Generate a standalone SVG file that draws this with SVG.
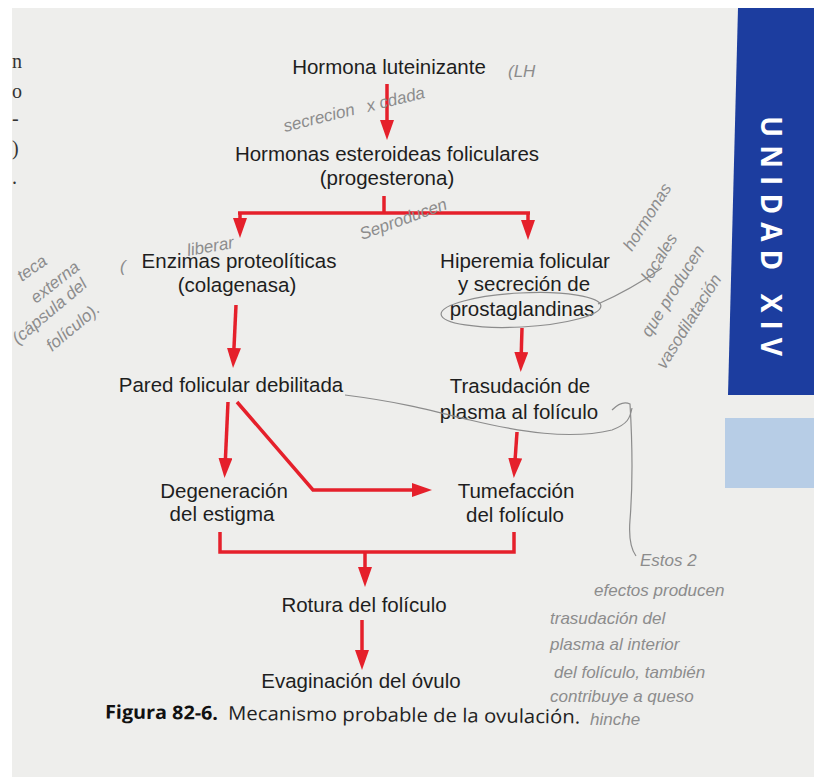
<svg xmlns="http://www.w3.org/2000/svg" width="814" height="777" viewBox="0 0 814 777">
<style>
.t{font-family:"Liberation Sans",Arial,sans-serif;font-size:20.5px;fill:#1e1e1e;text-anchor:middle}
.c{stroke:#e5202b;stroke-width:3.5;fill:none;stroke-linejoin:miter}
.a{stroke:#e5202b;stroke-width:3.5;fill:none;marker-end:url(#ah)}
.h{font-family:"Liberation Sans",Arial,sans-serif;font-size:17px;fill:#8c8c8c;font-style:italic}
.p{stroke:#8c8c8c;stroke-width:1.2;fill:none}
.m{font-family:"Liberation Serif",serif;font-size:20px;fill:#333}
</style>
<defs>
<marker id="ah" markerUnits="userSpaceOnUse" markerWidth="22" markerHeight="14" refX="10" refY="7" orient="auto">
<path d="M0,0 L20,7 L0,14 z" fill="#e5202b"/>
</marker>
</defs>
<rect width="814" height="777" fill="#ffffff"/>
<rect x="12" y="8" width="802" height="769" fill="#eeeeec"/>
<g id="margin">
<text class="m" x="12" y="68">n</text>
<text class="m" x="12" y="98">o</text>
<text class="m" x="12" y="125">-</text>
<text class="m" x="12" y="155">)</text>
<text class="m" x="12" y="184">.</text>
</g>
<g id="tab">
<polygon points="738,8 814,8 814,395 728,395" fill="#1c3d9f"/>
<text x="772" y="236" transform="rotate(90 772 236)" font-family="'Open Sans','Liberation Sans',sans-serif" font-weight="bold" font-size="28" fill="#ffffff" text-anchor="middle" dominant-baseline="central" textLength="240" lengthAdjust="spacing">UNIDAD XIV</text>
<rect x="725" y="418" width="89" height="70" fill="#b7cde6"/>
</g>
<g id="connectors">
<line class="a" x1="387" y1="84" x2="387" y2="130"/>
<polyline class="c" points="384,196 384,213"/>
<polyline class="c" points="238,213 530,213"/>
<line class="a" x1="240" y1="213" x2="240" y2="228"/>
<line class="a" x1="528" y1="213" x2="528" y2="230"/>
<line class="a" x1="236" y1="305" x2="233.5" y2="358"/>
<line class="a" x1="522" y1="328" x2="521" y2="362"/>
<line class="a" x1="228" y1="402" x2="225" y2="468"/>
<polyline class="a" points="237,402 313,490 422,490"/>
<line class="a" x1="517" y1="432" x2="514.5" y2="468"/>
<polyline class="c" points="220,532 220,552 514,552 514,532"/>
<line class="a" x1="365" y1="552" x2="365" y2="577"/>
<line class="a" x1="362" y1="620" x2="362" y2="660"/>
</g>
<g id="n1"><text class="t" x="389" y="74">Hormona luteinizante</text></g>
<g id="n2"><text class="t" x="387" y="161">Hormonas esteroideas foliculares</text><text class="t" x="387" y="185">(progesterona)</text></g>
<g id="n3"><text class="t" x="239" y="268">Enzimas proteolíticas</text><text class="t" x="237" y="292">(colagenasa)</text></g>
<g id="n4"><text class="t" x="525" y="268">Hiperemia folicular</text><text class="t" x="524" y="291">y secreción de</text><text class="t" x="522" y="316">prostaglandinas</text></g>
<g id="n5"><text class="t" x="231" y="392">Pared folicular debilitada</text></g>
<g id="n6"><text class="t" x="520" y="393">Trasudación de</text><text class="t" x="519" y="419">plasma al folículo</text></g>
<g id="n7"><text class="t" x="224" y="498">Degeneración</text><text class="t" x="222" y="521">del estigma</text></g>
<g id="n8"><text class="t" x="516" y="498">Tumefacción</text><text class="t" x="515" y="522">del folículo</text></g>
<g id="n9"><text class="t" x="364" y="612">Rotura del folículo</text></g>
<g id="n10"><text class="t" x="361" y="688">Evaginación del óvulo</text></g>
<g id="caption" transform="rotate(0.6 340 722)">
<text x="105" y="721" font-family="'Open Sans','Liberation Sans',sans-serif" font-weight="bold" font-size="19" fill="#111" textLength="113" lengthAdjust="spacingAndGlyphs">Figura 82-6.</text>
<text x="228" y="721" font-family="'Open Sans','Liberation Sans',sans-serif" font-size="19" fill="#222" textLength="352" lengthAdjust="spacingAndGlyphs">Mecanismo probable de la ovulación.</text>
</g>
<g id="notes">
<text class="h" x="508" y="77" font-size="24">(LH</text>
<text class="h" x="285" y="132" transform="rotate(-14 285 132)">secrecion</text>
<text class="h" x="368" y="112" transform="rotate(-14 368 112)">x cdada</text>
<text class="h" x="362" y="240" transform="rotate(-20 362 240)">Seproducen</text>
<text class="h" x="188" y="256" transform="rotate(-10 188 256)">liberar</text>
<text class="h" x="120" y="272" font-size="26">(</text>
<text class="h" x="22" y="282" transform="rotate(-35 22 282)">teca</text>
<text class="h" x="36" y="304" transform="rotate(-38 36 304)">externa</text>
<text class="h" x="18" y="345" transform="rotate(-40 18 345)">(cápsula del</text>
<text class="h" x="52" y="352" transform="rotate(-40 52 352)">folículo).</text>
<text class="h" x="632" y="252" transform="rotate(-58 632 252)">hormonas</text>
<text class="h" x="650" y="283" transform="rotate(-58 650 283)">locales</text>
<text class="h" x="650" y="338" transform="rotate(-58 650 338)">que producen</text>
<text class="h" x="665" y="370" transform="rotate(-58 665 370)">vasodilatación</text>
<ellipse class="p" cx="521" cy="310" rx="80" ry="17" transform="rotate(-3 521 310)"/>
<path class="p" d="M598,304 Q630,290 662,268"/>
<path class="p" d="M345,395 C400,402 430,410 470,420 C520,432 570,440 612,430 C628,424 630,418 632,408"/>
<path class="p" d="M612,410 Q622,400 630,404 Q634,470 630,520 Q628,545 636,556"/>
<text class="h" x="640" y="566" font-size="21">Estos 2</text>
<text class="h" x="594" y="596" font-size="21">efectos producen</text>
<text class="h" x="550" y="624" font-size="21">trasudación del</text>
<text class="h" x="550" y="650" font-size="21">plasma al interior</text>
<text class="h" x="554" y="678" font-size="21">del folículo, también</text>
<text class="h" x="550" y="702" font-size="21">contribuye a queso</text>
<text class="h" x="590" y="725" font-size="19">hinche</text>
</g>
</svg>
